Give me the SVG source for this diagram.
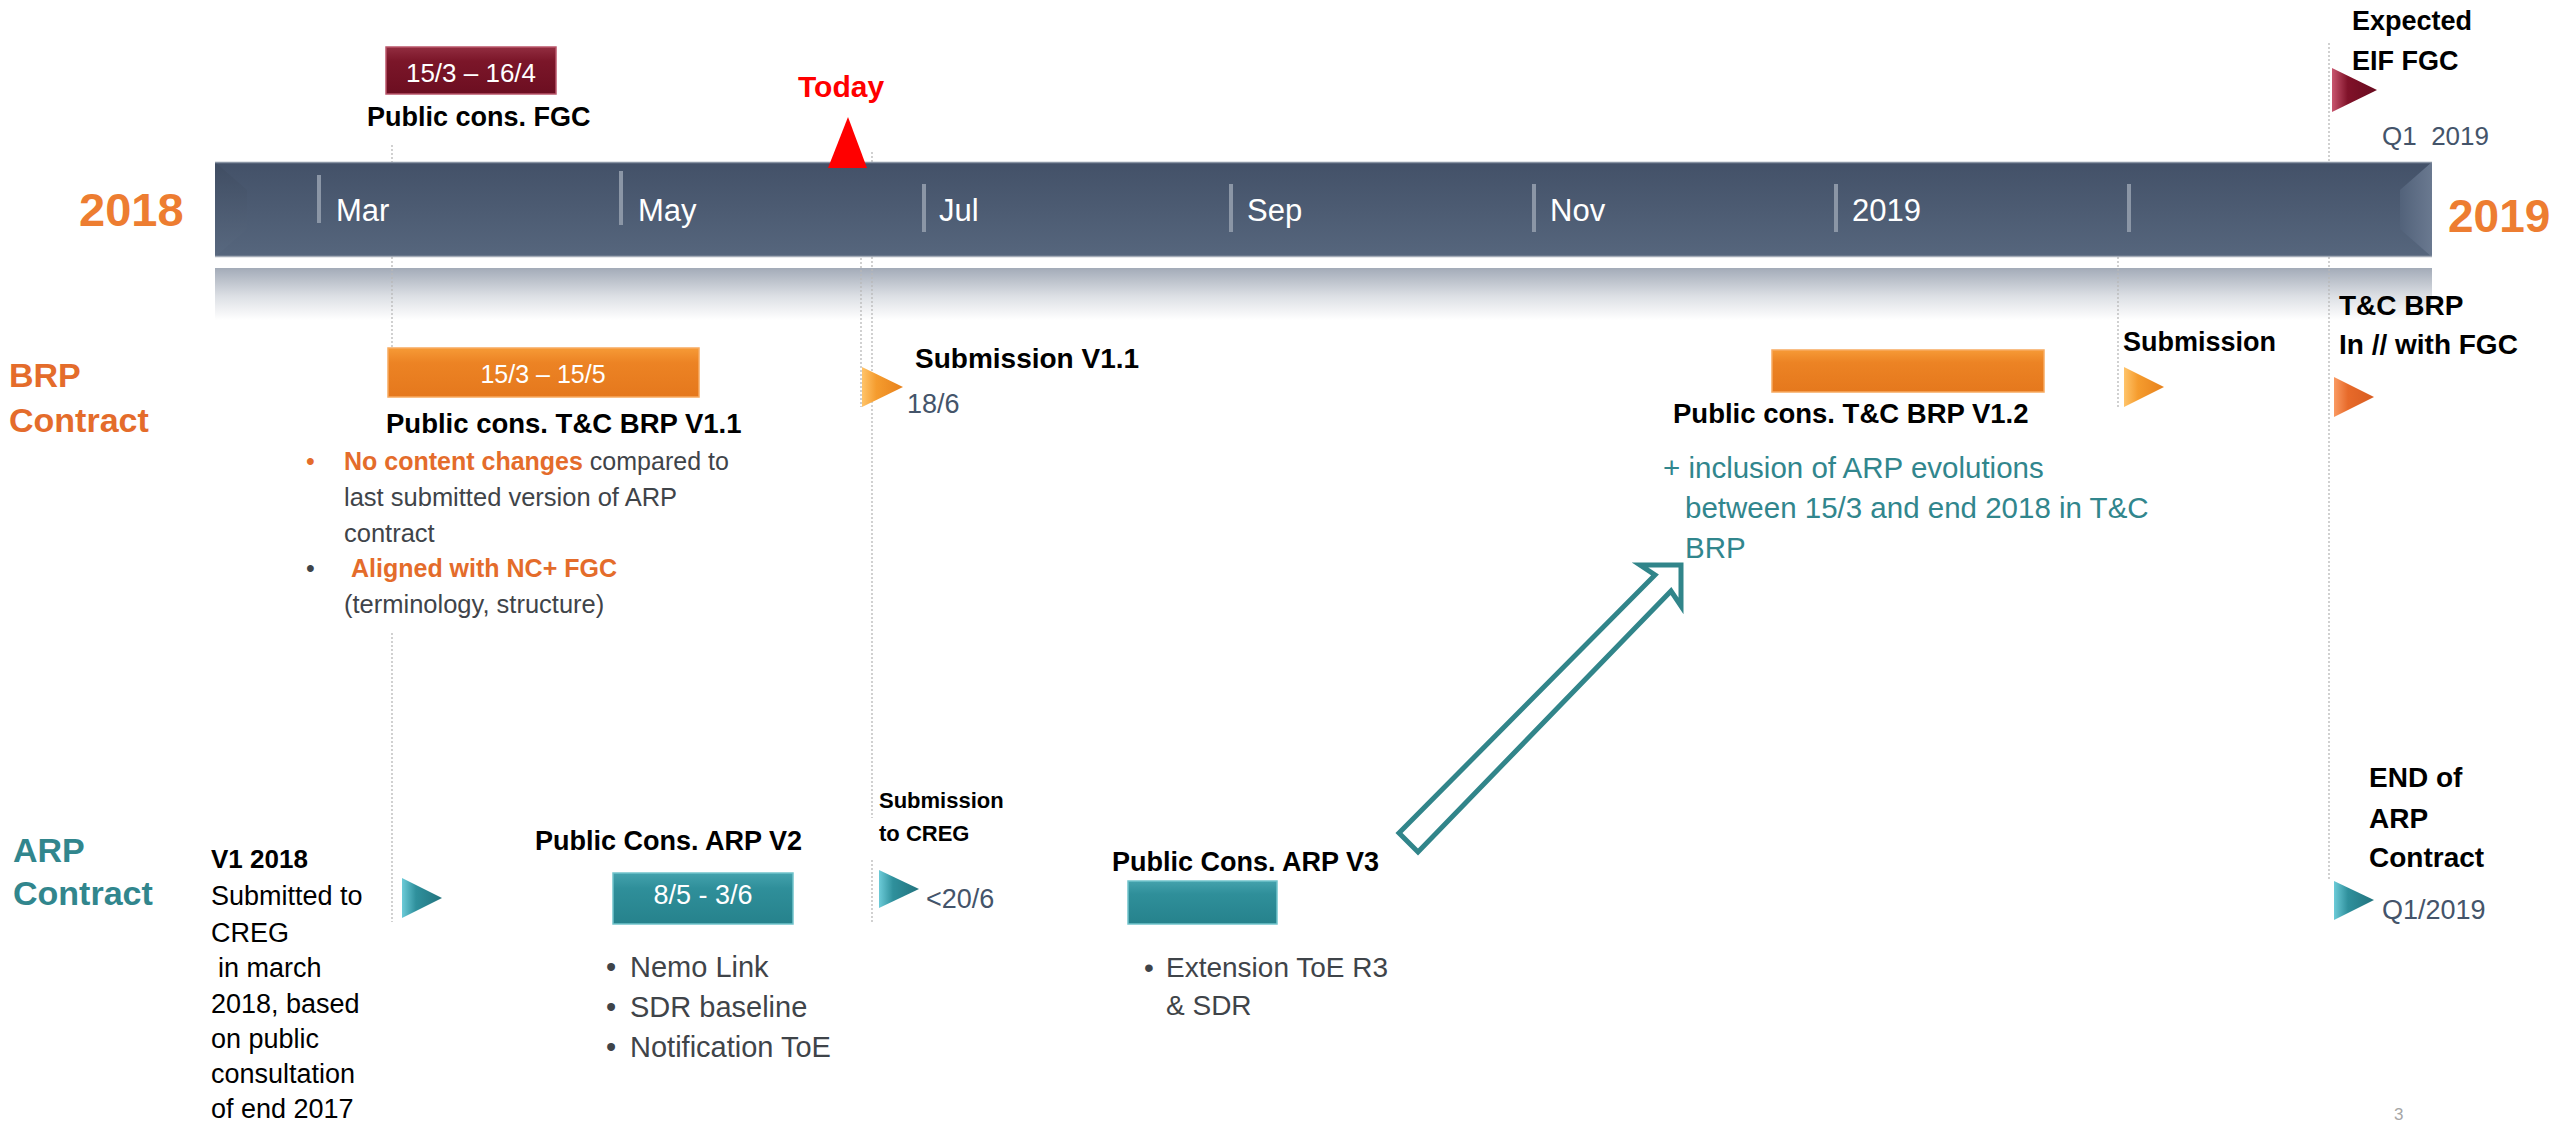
<svg xmlns="http://www.w3.org/2000/svg" width="2554" height="1122" viewBox="0 0 2554 1122">
<style>
text{font-family:"Liberation Sans",Arial,sans-serif}
.b{font-weight:bold}
.w{fill:#ffffff}
.k{fill:#000000}
.g{fill:#3f4449}
.s{fill:#44546a}
.org{fill:#e46c2b}
.yr{fill:#ed7d31}
.tl{fill:#31868d}
.guide{stroke:#b8b8b8;stroke-width:1.3;stroke-dasharray:2 2;fill:none}
.tick{fill:#8b96a6}
.mon{fill:#ffffff;font-size:31px}
</style>
<defs>
<linearGradient id="barG" x1="0" y1="0" x2="0" y2="1"><stop offset="0" stop-color="#435168"/><stop offset="1" stop-color="#56667d"/></linearGradient>
<linearGradient id="reflG" x1="0" y1="0" x2="0" y2="1"><stop offset="0" stop-color="#a3abb8"/><stop offset="0.55" stop-color="#dde0e5"/><stop offset="1" stop-color="#ffffff"/></linearGradient>
<linearGradient id="bevR" x1="0" y1="0" x2="1" y2="0"><stop offset="0" stop-color="#52627a"/><stop offset="1" stop-color="#6a7990"/></linearGradient>
<linearGradient id="bevL" x1="0" y1="0" x2="0" y2="1"><stop offset="0" stop-color="#3e4b60"/><stop offset="1" stop-color="#5a6a81"/></linearGradient>
<linearGradient id="maroonG" x1="0" y1="0" x2="0" y2="1"><stop offset="0" stop-color="#922d40"/><stop offset="0.3" stop-color="#7b1629"/><stop offset="1" stop-color="#6c0e21"/></linearGradient>
<linearGradient id="orangeG" x1="0" y1="0" x2="0" y2="1"><stop offset="0" stop-color="#f69a36"/><stop offset="0.3" stop-color="#ec8324"/><stop offset="1" stop-color="#e5781d"/></linearGradient>
<linearGradient id="tealG" x1="0" y1="0" x2="0" y2="1"><stop offset="0" stop-color="#44a2ad"/><stop offset="0.3" stop-color="#2f8f9a"/><stop offset="1" stop-color="#26828c"/></linearGradient>
<linearGradient id="triO" x1="0" y1="0" x2="1" y2="0"><stop offset="0" stop-color="#ffc46a"/><stop offset="0.35" stop-color="#f59c2e"/><stop offset="1" stop-color="#e7811c"/></linearGradient>
<linearGradient id="triR" x1="0" y1="0" x2="1" y2="0"><stop offset="0" stop-color="#fa9a62"/><stop offset="0.35" stop-color="#e76a2a"/><stop offset="1" stop-color="#d85c21"/></linearGradient>
<linearGradient id="triT" x1="0" y1="0" x2="1" y2="0"><stop offset="0" stop-color="#6ccbd8"/><stop offset="0.35" stop-color="#2f909c"/><stop offset="1" stop-color="#22737e"/></linearGradient>
<linearGradient id="triM" x1="0" y1="0" x2="1" y2="0"><stop offset="0" stop-color="#c9566f"/><stop offset="0.35" stop-color="#801229"/><stop offset="1" stop-color="#680b1f"/></linearGradient>
</defs>
<rect width="2554" height="1122" fill="#ffffff"/>

<g id="timeline-reflection"><rect x="215" y="268" width="2217" height="52" fill="url(#reflG)"/></g>

<g id="guides">
<path class="guide" d="M392 145V162M392 257V348M392 633V922"/>
<path class="guide" d="M861 258V407"/>
<path class="guide" d="M872 152V162M872 257V818M872 860V923"/>
<path class="guide" d="M2118 257V407"/>
<path class="guide" d="M2329 43V162M2329 257V880"/>
</g>

<g id="timeline-bar">
<rect x="215" y="162" width="2217" height="95" fill="url(#barG)"/>
<polygon points="215,162 247,190 247,229 215,257" fill="url(#bevL)" opacity="0.7"/>
<polygon points="2432,162 2400,190 2400,229 2432,257" fill="url(#bevR)"/>
<line x1="215" y1="162.5" x2="2432" y2="162.5" stroke="#8994a4" stroke-width="1.5"/>
<line x1="215" y1="256.5" x2="2432" y2="256.5" stroke="#a4acb8" stroke-width="1.5"/>
<rect class="tick" x="317" y="175" width="4" height="48"/>
<rect class="tick" x="619" y="171" width="4" height="54"/>
<rect class="tick" x="922" y="184" width="4" height="48"/>
<rect class="tick" x="1229" y="184" width="4" height="48"/>
<rect class="tick" x="1532" y="184" width="4" height="48"/>
<rect class="tick" x="1834" y="184" width="4" height="48"/>
<rect class="tick" x="2127" y="184" width="4" height="48"/>
<text class="mon" x="336" y="221">Mar</text>
<text class="mon" x="638" y="221">May</text>
<text class="mon" x="939" y="221">Jul</text>
<text class="mon" x="1247" y="221">Sep</text>
<text class="mon" x="1550" y="221">Nov</text>
<text class="mon" x="1852" y="221">2019</text>
</g>

<g id="year-2018"><text class="b yr" x="79" y="226" font-size="47">2018</text></g>
<g id="year-2019"><text class="b yr" x="2448" y="232" font-size="46">2019</text></g>

<g id="today">
<text class="b" x="798" y="97" font-size="30" fill="#ff0000">Today</text>
<polygon points="848,117 828,168 867,168" fill="#ff0000"/>
</g>

<g id="fgc-cons">
<rect x="386" y="47" width="170" height="47" fill="url(#maroonG)" stroke="#b9566a" stroke-width="1.5"/>
<text class="w" x="471" y="82" font-size="26" text-anchor="middle">15/3 – 16/4</text>
<text class="b k" x="367" y="126" font-size="27">Public cons. FGC</text>
</g>

<g id="fgc-eif">
<text class="b k" x="2352" y="30" font-size="27">Expected</text>
<text class="b k" x="2352" y="70" font-size="27">EIF FGC</text>
<polygon points="2332,68 2377,90 2332,112" fill="url(#triM)"/>
<text class="s" x="2382" y="145" font-size="26" xml:space="preserve">Q1  2019</text>
</g>

<g id="brp-label">
<text class="b org" x="9" y="387" font-size="34">BRP</text>
<text class="b org" x="9" y="432" font-size="34">Contract</text>
</g>

<g id="brp-v11-cons">
<rect x="388" y="348" width="311" height="49" fill="url(#orangeG)" stroke="#f7aa60" stroke-width="1.5"/>
<text class="w" x="543" y="383" font-size="25" text-anchor="middle">15/3 – 15/5</text>
<text class="b k" x="386" y="433" font-size="27.5">Public cons. T&amp;C BRP V1.1</text>
<text class="org" x="306" y="470" font-size="25">•</text>
<text x="344" y="470" font-size="25"><tspan class="b org">No content changes</tspan><tspan class="g"> compared to</tspan></text>
<text class="g" x="344" y="506" font-size="25.5">last submitted version of ARP</text>
<text class="g" x="344" y="542" font-size="25.5">contract</text>
<text class="g" x="306" y="577" font-size="25">•</text>
<text class="b org" x="351" y="577" font-size="25">Aligned with NC+ FGC</text>
<text class="g" x="344" y="613" font-size="25.5">(terminology, structure)</text>
</g>

<g id="brp-v11-submission">
<polygon points="862,367 903,387 862,407" fill="url(#triO)"/>
<text class="b k" x="915" y="368" font-size="28">Submission V1.1</text>
<text class="s" x="907" y="413" font-size="27">18/6</text>
</g>

<g id="brp-v12-cons">
<rect x="1772" y="350" width="272" height="42" fill="url(#orangeG)" stroke="#f7aa60" stroke-width="1.5"/>
<text class="b k" x="1673" y="423" font-size="27.5">Public cons. T&amp;C BRP V1.2</text>
<text class="tl" x="1663" y="478" font-size="29.5">+ inclusion of ARP evolutions</text>
<text class="tl" x="1685" y="518" font-size="29.5">between 15/3 and end 2018 in T&amp;C</text>
<text class="tl" x="1685" y="558" font-size="29.5">BRP</text>
</g>

<g id="brp-submission">
<text class="b k" x="2123" y="351" font-size="27">Submission</text>
<polygon points="2124,367 2164,387 2124,407" fill="url(#triO)"/>
</g>

<g id="brp-tc-fgc">
<text class="b k" x="2339" y="315" font-size="28">T&amp;C BRP</text>
<text class="b k" x="2339" y="354" font-size="28">In // with FGC</text>
<polygon points="2334,377 2374,397 2334,417" fill="url(#triR)"/>
</g>

<g id="arp-label">
<text class="b tl" x="13" y="862" font-size="34">ARP</text>
<text class="b tl" x="13" y="905" font-size="34">Contract</text>
</g>

<g id="arp-v1">
<text class="b k" x="211" y="868" font-size="26">V1 2018</text>
<text class="k" x="211" y="905" font-size="27">Submitted to</text>
<text class="k" x="211" y="942" font-size="27">CREG</text>
<text class="k" x="218" y="977" font-size="27">in march</text>
<text class="k" x="211" y="1013" font-size="27">2018, based</text>
<text class="k" x="211" y="1048" font-size="27">on public</text>
<text class="k" x="211" y="1083" font-size="27">consultation</text>
<text class="k" x="211" y="1118" font-size="27">of end 2017</text>
<polygon points="402,878 442,898 402,918" fill="url(#triT)"/>
</g>

<g id="arp-v2-cons">
<text class="b k" x="535" y="850" font-size="27">Public Cons. ARP V2</text>
<rect x="613" y="873" width="180" height="51" fill="url(#tealG)" stroke="#72c4cc" stroke-width="1.5"/>
<text class="w" x="703" y="904" font-size="27" text-anchor="middle">8/5 - 3/6</text>
<text class="g" x="606" y="977" font-size="29">•</text>
<text class="g" x="630" y="977" font-size="29">Nemo Link</text>
<text class="g" x="606" y="1017" font-size="29">•</text>
<text class="g" x="630" y="1017" font-size="29">SDR baseline</text>
<text class="g" x="606" y="1057" font-size="29">•</text>
<text class="g" x="630" y="1057" font-size="29">Notification ToE</text>
</g>

<g id="arp-v2-submission">
<text class="b k" x="879" y="808" font-size="22">Submission</text>
<text class="b k" x="879" y="841" font-size="22">to CREG</text>
<polygon points="879,870 919,889 879,908" fill="url(#triT)"/>
<text class="s" x="926" y="908" font-size="27">&lt;20/6</text>
</g>

<g id="arp-v3-cons">
<text class="b k" x="1112" y="871" font-size="27">Public Cons. ARP V3</text>
<rect x="1128" y="881" width="149" height="43" fill="url(#tealG)" stroke="#72c4cc" stroke-width="1.5"/>
<text class="g" x="1144" y="977" font-size="28">•</text>
<text class="g" x="1166" y="977" font-size="28">Extension ToE R3</text>
<text class="g" x="1166" y="1015" font-size="28">&amp; SDR</text>
</g>

<g id="arp-end">
<text class="b k" x="2369" y="787" font-size="28">END of</text>
<text class="b k" x="2369" y="828" font-size="28">ARP</text>
<text class="b k" x="2369" y="867" font-size="28">Contract</text>
<polygon points="2334,881 2374,900 2334,920" fill="url(#triT)"/>
<text class="s" x="2382" y="919" font-size="27">Q1/2019</text>
</g>

<g id="connectors">
<polygon points="1399,833 1655,575 1640,565 1681,565 1681,606 1671,591 1418,852" fill="#ffffff" stroke="#31858a" stroke-width="5" stroke-linejoin="miter"/>
</g>

<g id="page-number"><text x="2394" y="1120" font-size="17" fill="#a6a6a6">3</text></g>
</svg>
